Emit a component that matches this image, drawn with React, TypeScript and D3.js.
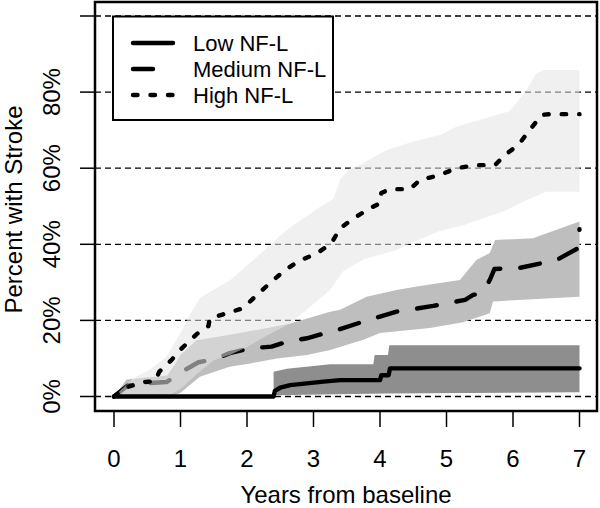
import React from "react";
import * as d3 from "d3";

// ---- data (years, percent) ----
const lowTime = [0, 2.4, 2.42, 2.5, 2.65, 3.15, 3.4, 4.0, 4.02, 4.13, 4.15, 7.0];
const lowEst = [0, 0, 1.5, 2.3, 3.0, 3.9, 4.3, 4.3, 5.6, 5.6, 7.4, 7.4];
const lowUpperTime = [2.4, 2.6, 3.0, 3.25, 3.9, 3.92, 4.12, 4.14, 7.0];
const lowUpper = [6.5, 7.3, 8.0, 8.5, 8.5, 10.9, 10.9, 13.5, 13.5];
const lowLowerTime = [2.4, 4.1, 7.0];
const lowLower = [0.3, 0.8, 1.1];

const medTime = [0, 0.2, 0.24, 0.49, 0.79, 0.9, 1.02, 1.27, 1.52, 1.74, 2.05, 2.37, 2.6, 2.9, 3.17, 3.4, 3.75, 4.0, 4.25, 4.8, 5.28, 5.4, 5.5, 5.6, 5.65, 5.72, 6.1, 6.66, 6.98, 7.0];
const medEst = [0, 2.8, 3.0, 3.5, 3.8, 5.0, 6.5, 9.0, 9.8, 11.4, 12.7, 13.1, 14.4, 15.3, 16.6, 17.7, 19.7, 21.0, 22.3, 23.8, 25.4, 26.7, 27.0, 29.0, 30.6, 33.5, 33.8, 35.9, 39.0, 44.0];
const medUpperTime = [0, 0.19, 0.5, 0.8, 0.9, 1.0, 1.24, 1.74, 2.15, 2.65, 3.25, 3.4, 3.8, 4.25, 4.55, 4.9, 5.2, 5.45, 5.65, 5.73, 6.3, 7.0];
const medUpper = [0, 4.5, 5.0, 5.5, 8.0, 11.0, 14.8, 16.2, 17.5, 19.2, 22.3, 22.8, 26.2, 28.0, 28.9, 29.8, 30.6, 35.9, 37.7, 41.1, 41.6, 46.0];
const medLowerTime = [0, 0.85, 1.0, 1.29, 1.74, 2.05, 2.45, 2.9, 3.25, 3.75, 4.0, 4.75, 5.25, 5.65, 5.7, 7.0];
const medLower = [0, 0, 1.0, 5.2, 7.8, 8.7, 10.0, 10.9, 12.2, 14.9, 16.7, 18.0, 19.5, 21.9, 25.0, 26.2];

const highTime = [0, 0.2, 0.45, 0.62, 0.68, 0.86, 1.01, 1.25, 1.42, 1.44, 1.68, 1.94, 2.15, 2.35, 2.57, 2.79, 3.05, 3.27, 3.4, 3.57, 3.8, 4.0, 4.02, 4.15, 4.45, 4.6, 4.9, 5.15, 5.43, 5.73, 5.88, 6.08, 6.25, 6.43, 6.55, 7.0];
const highEst = [0, 2.5, 3.8, 4.0, 6.5, 9.5, 12.5, 16.5, 18.5, 20.5, 21.8, 23.2, 26.7, 29.9, 33.2, 35.7, 37.6, 40.3, 44.2, 46.4, 49.0, 50.8, 53.5, 54.5, 54.5, 56.9, 58.2, 60.0, 60.8, 60.8, 63.5, 66.1, 70.0, 74.0, 74.2, 74.2];
const highUpperTime = [0, 0.29, 0.54, 0.79, 1.0, 1.15, 1.3, 1.75, 2.15, 2.6, 3.1, 3.3, 3.4, 3.55, 3.65, 4.1, 4.5, 4.9, 5.15, 5.25, 5.85, 5.95, 6.2, 6.35, 6.45, 7.0];
const highUpper = [0, 4.8, 7.0, 10.5, 16.7, 21.9, 26.0, 30.6, 36.7, 43.8, 49.9, 52.0, 57.0, 60.0, 60.4, 64.8, 67.0, 68.7, 70.9, 71.4, 74.5, 75.0, 80.5, 84.9, 85.8, 85.8];
const highLowerTime = [0, 0.8, 1.0, 1.25, 1.5, 1.75, 2.0, 2.3, 2.65, 2.95, 3.25, 3.45, 3.75, 4.25, 4.55, 4.9, 5.25, 5.85, 6.2, 6.5, 7.0];
const highLower = [0, 0, 2.0, 6.0, 9.5, 11.0, 13.0, 16.0, 19.2, 23.6, 28.0, 33.0, 36.0, 38.5, 41.0, 43.5, 45.0, 48.6, 51.6, 53.8, 53.8];

const xTicks = [0, 1, 2, 3, 4, 5, 6, 7];
const yTicks = [0, 20, 40, 60, 80, 100];
const yTickLabels = ["0%", "20%", "40%", "60%", "80%", ""];
const legendLabels = ["Low NF-L", "Medium NF-L", "High NF-L"];

const W = 600, H = 508;
const box = { l: 95, r: 597, t: 2, b: 411 };
const x = d3.scaleLinear().domain([0, 7]).range([114, 579.5]);
const y = d3.scaleLinear().domain([0, 100]).range([396.5, 16]);
const FONT = "'Liberation Sans', Arial, sans-serif";

const line = d3.line<[number, number]>().x(d => x(d[0])).y(d => y(d[1]));
const zip = (t: number[], v: number[]) => t.map((ti, i) => [ti, v[i]] as [number, number]);
const bandPath = (ut: number[], u: number[], lt: number[], lo: number[]) => {
  const pts = [...zip(ut, u), ...zip(lt, lo).reverse()];
  return line(pts) + "Z";
};

export default function App() {
  const legendRows = [43, 69, 95];
  const dashes = [undefined, "20 20", "4.5 13"];
  return (
    <svg width={W} height={H} style={{ position: "absolute", left: 0, top: 0, background: "#fff" }} fontFamily={FONT}>
      <rect x={0} y={0} width={W} height={H} fill="#fff" />
      {/* gridlines */}
      {yTicks.map(t => (
        <line key={"g" + t} x1={box.l} x2={box.r} y1={y(t)} y2={y(t)} stroke="#000" strokeWidth={1.3} strokeDasharray="6 4" />
      ))}
      {/* bands & lines */}
      <path d={bandPath(lowUpperTime, lowUpper, lowLowerTime, lowLower)} fill="#8e8e8e" />
      <path d={bandPath(medUpperTime, medUpper, medLowerTime, medLower)} fill="#bebebe" />
      <path d={line(zip(medTime, medEst)) ?? ""} fill="none" stroke="#000" strokeWidth={4.4} strokeDasharray="20 20" strokeLinecap="round" strokeLinejoin="round" />
      <path d={bandPath(highUpperTime, highUpper, highLowerTime, highLower)} fill="rgb(228,228,228)" fillOpacity={0.56} />
      <path d={line(zip(lowTime, lowEst)) ?? ""} fill="none" stroke="#000" strokeWidth={4.4} strokeLinecap="round" strokeLinejoin="round" />
      <path d={line(zip(highTime, highEst)) ?? ""} fill="none" stroke="#000" strokeWidth={4.4} strokeDasharray="4.5 13" strokeLinecap="round" strokeLinejoin="round" />
      {/* box */}
      <rect x={box.l} y={box.t} width={box.r - box.l} height={box.b - box.t} fill="none" stroke="#000" strokeWidth={2.5} />
      {/* y axis */}
      {yTicks.map((t, i) => (
        <g key={"y" + t}>
          <line x1={80} x2={box.l} y1={y(t)} y2={y(t)} stroke="#000" strokeWidth={1.5} />
          {yTickLabels[i] && (
            <text transform={`translate(60,${y(t)}) rotate(-90)`} textAnchor="middle" fontSize={24}>{yTickLabels[i]}</text>
          )}
        </g>
      ))}
      {/* x axis */}
      {xTicks.map(t => (
        <g key={"x" + t}>
          <line x1={x(t)} x2={x(t)} y1={box.b} y2={427} stroke="#000" strokeWidth={1.5} />
          <text x={x(t)} y={467} textAnchor="middle" fontSize={24}>{t}</text>
        </g>
      ))}
      <text x={(box.l + box.r) / 2} y={503} textAnchor="middle" fontSize={24}>Years from baseline</text>
      <text transform={`translate(22,${(box.t + box.b) / 2 + 3}) rotate(-90)`} textAnchor="middle" fontSize={24}>Percent with Stroke</text>
      {/* legend */}
      <rect x={113} y={16.5} width={220} height={103.5} fill="#fff" stroke="#000" strokeWidth={2} />
      {legendLabels.map((lab, i) => (
        <g key={lab}>
          <line x1={133} x2={173} y1={legendRows[i]} y2={legendRows[i]} stroke="#000" strokeWidth={4.4} strokeLinecap="round" strokeDasharray={dashes[i]} />
          <text x={193} y={legendRows[i] + 7.5} fontSize={22}>{lab}</text>
        </g>
      ))}
    </svg>
  );
}
